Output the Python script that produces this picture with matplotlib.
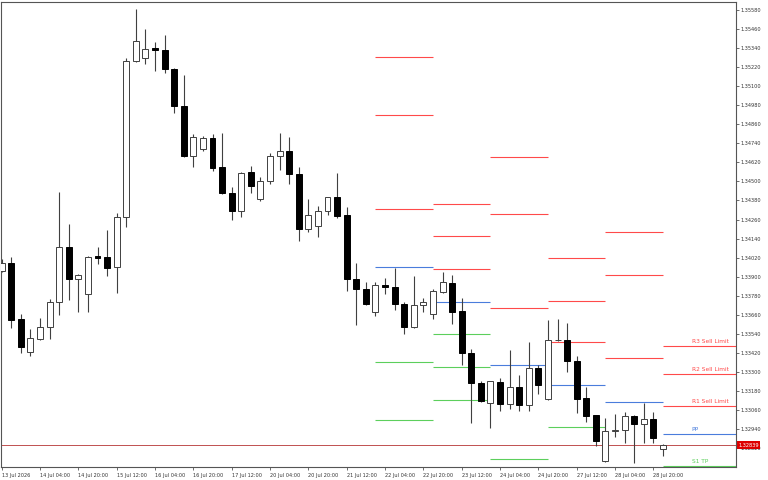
import numpy as np
import matplotlib.pyplot as plt

# 4H свечи (индекс бара 0..69)
opens = [1.33936, 1.33986, 1.33633, 1.33425, 1.33507, 1.33583, 1.33740, 1.34087, 1.33885, 1.33791,
         1.34030, 1.34024, 1.33961, 1.34276, 1.35259, 1.35278, 1.35341, 1.35328, 1.35208, 1.34975,
         1.34660, 1.34704, 1.34774, 1.34591, 1.34427, 1.34314, 1.34559, 1.34389, 1.34503, 1.34660,
         1.34692, 1.34547, 1.34200, 1.34219, 1.34314, 1.34402, 1.34289, 1.33885, 1.33822, 1.33677,
         1.33848, 1.33835, 1.33728, 1.33583, 1.33722, 1.33665, 1.33803, 1.33860, 1.33684, 1.33419,
         1.33230, 1.33104, 1.33236, 1.33098, 1.33205, 1.33092, 1.33325, 1.33129, 1.33501, 1.33501,
         1.33369, 1.33136, 1.33029, 1.32739, 1.32928, 1.32934, 1.33022, 1.32972, 1.33003, 1.32814]
highs = [1.34011, 1.34024, 1.33665, 1.33570, 1.33640, 1.33759, 1.34433, 1.34232, 1.33917, 1.34030,
         1.34087, 1.34194, 1.34301, 1.35278, 1.35586, 1.35460, 1.35378, 1.35423, 1.35215, 1.35171,
         1.34799, 1.34786, 1.34799, 1.34805, 1.34465, 1.34559, 1.34597, 1.34528, 1.34679, 1.34805,
         1.34780, 1.34591, 1.34389, 1.34345, 1.34402, 1.34553, 1.34339, 1.33986, 1.33866, 1.33866,
         1.33892, 1.33955, 1.33740, 1.33904, 1.33766, 1.33822, 1.33929, 1.33911, 1.33766, 1.33444,
         1.33243, 1.33243, 1.33262, 1.33438, 1.33281, 1.33488, 1.33344, 1.33627, 1.33633, 1.33608,
         1.33400, 1.33205, 1.33029, 1.33010, 1.33035, 1.33047, 1.33029, 1.33104, 1.33047, 1.32846]
lows = [1.33929, 1.33577, 1.33419, 1.33400, 1.33501, 1.33507, 1.33659, 1.33753, 1.33677, 1.33677,
        1.33980, 1.33904, 1.33797, 1.34213, 1.35252, 1.35240, 1.35196, 1.35183, 1.34931, 1.34654,
        1.34591, 1.34692, 1.34566, 1.34421, 1.34257, 1.34276, 1.34427, 1.34377, 1.34484, 1.34572,
        1.34484, 1.34125, 1.34181, 1.34150, 1.34289, 1.34270, 1.33810, 1.33596, 1.33722, 1.33652,
        1.33791, 1.33690, 1.33539, 1.33577, 1.33677, 1.33633, 1.33797, 1.33602, 1.33344, 1.32978,
        1.33110, 1.32947, 1.33054, 1.33066, 1.33054, 1.33054, 1.33161, 1.33123, 1.33495, 1.33299,
        1.33041, 1.32984, 1.32833, 1.32732, 1.32890, 1.32852, 1.32726, 1.32852, 1.32852, 1.32770]
closes = [1.33986, 1.33627, 1.33457, 1.33514, 1.33583, 1.33740, 1.34087, 1.33885, 1.33911, 1.34024,
          1.34018, 1.33955, 1.34276, 1.35259, 1.35385, 1.35334, 1.35328, 1.35208, 1.34975, 1.34660,
          1.34780, 1.34774, 1.34585, 1.34427, 1.34314, 1.34553, 1.34471, 1.34503, 1.34660, 1.34692,
          1.34547, 1.34200, 1.34289, 1.34314, 1.34402, 1.34282, 1.33885, 1.33822, 1.33728, 1.33848,
          1.33835, 1.33728, 1.33583, 1.33722, 1.33740, 1.33810, 1.33866, 1.33677, 1.33419, 1.33230,
          1.33117, 1.33243, 1.33098, 1.33205, 1.33092, 1.33325, 1.33218, 1.33501, 1.33504, 1.33369,
          1.33129, 1.33022, 1.32865, 1.32928, 1.32934, 1.33022, 1.32972, 1.33003, 1.32884, 1.32839]

# дневные пивоты: начало (индекс бара) и уровни
day_start = [39, 45, 51, 57, 63, 69]
r3 = [1.35284, 1.34358, 1.34654, 1.34018, 1.34181, 1.33463]
r2 = [1.34919, 1.34156, 1.34295, 1.33747, 1.33911, 1.33287]
r1 = [1.34326, 1.33948, 1.33703, 1.33488, 1.33388, 1.33085]
pp = [1.33961, 1.33740, 1.33344, 1.33218, 1.33110, 1.32909]
s1 = [1.33362, 1.33539, 1.32751, 1.32953, 1.32587, 1.32707]
s2 = [1.32997, 1.33331, 1.32200, 1.32688, 1.32000, 1.32500]
s3 = [1.32000, 1.33123, 1.32000, 1.32000, 1.32000, 1.32000]

bid = 1.32839

xtick_pos = list(range(0, 70, 4))
xtick_labels = ['13 Jul 2026', '14 Jul 04:00', '14 Jul 20:00', '15 Jul 12:00', '16 Jul 04:00',
                '16 Jul 20:00', '17 Jul 12:00', '20 Jul 04:00', '20 Jul 20:00', '21 Jul 12:00',
                '22 Jul 04:00', '22 Jul 20:00', '23 Jul 12:00', '24 Jul 04:00', '24 Jul 20:00',
                '27 Jul 12:00', '28 Jul 04:00', '28 Jul 20:00']
ytick_vals = [round(1.32820 + 0.0012 * k, 5) for k in range(24)]

RED = '#ff4a4a'
BLUE = '#4a7ddc'
GREEN = '#5ccf5c'

fig = plt.figure(figsize=(7.68, 4.8), dpi=100)
ax = fig.add_axes([1 / 768, 13 / 480, 735 / 768, 465.3 / 480])

xmin, xmax = -0.07, 76.62
ax.set_xlim(xmin, xmax)
ax.set_ylim(1.32701, 1.35632)

# линия bid
ax.axhline(bid, color='#c05050', lw=0.7, zorder=1)

# пивоты
ends = day_start[1:] + [xmax]
for levels, col in [(r3, RED), (r2, RED), (r1, RED), (pp, BLUE), (s1, GREEN), (s2, GREEN), (s3, GREEN)]:
    ax.hlines(levels, day_start, ends, colors=col, lw=0.8, zorder=1)

# подписи последнего дня
lab_x = 72.0
for val, txt, col in [(r3[-1], 'R3 Sell Limit', RED), (r2[-1], 'R2 Sell Limit', RED),
                      (r1[-1], 'R1 Sell Limit', RED), (pp[-1], 'PP', BLUE), (s1[-1], 'S1 TP', GREEN)]:
    ax.annotate(txt, (lab_x, val), xytext=(0, 1.2), textcoords='offset points',
                fontsize=4.2, color=col, ha='left', va='bottom')

# свечи
x = np.arange(len(opens))
o = np.array(opens)
c = np.array(closes)
ax.vlines(x, lows, highs, colors='#404040', lw=0.8, zorder=2)
bottom = np.minimum(o, c)
height = np.maximum(np.abs(c - o), 0.00003)
up = c >= o
ax.bar(x[up], height[up], bottom=bottom[up], width=0.62, color='white',
       edgecolor='#404040', linewidth=0.7, zorder=3)
ax.bar(x[~up], height[~up], bottom=bottom[~up], width=0.62, color='black',
       edgecolor='black', linewidth=0.7, zorder=3)

# оси
ax.yaxis.tick_right()
ax.set_yticks(ytick_vals)
ax.set_yticklabels(['%.5f' % v for v in ytick_vals])
ax.set_xticks(xtick_pos)
ax.set_xticklabels(xtick_labels, ha='left')
ax.tick_params(axis='both', labelsize=3.6, length=2.2, width=0.5, colors='#333333', pad=1)
ax.tick_params(axis='x', pad=2)
for sp in ax.spines.values():
    sp.set_color('#555555')
    sp.set_linewidth(0.8)

# метка цены bid
ax.text(1.003, bid, '%.5f' % bid, transform=ax.get_yaxis_transform(), fontsize=3.6,
        color='white', ha='left', va='center', zorder=10,
        bbox=dict(boxstyle='square,pad=0.3', fc='#dd0000', ec='none'))

fig.savefig('out.png', dpi=100)
